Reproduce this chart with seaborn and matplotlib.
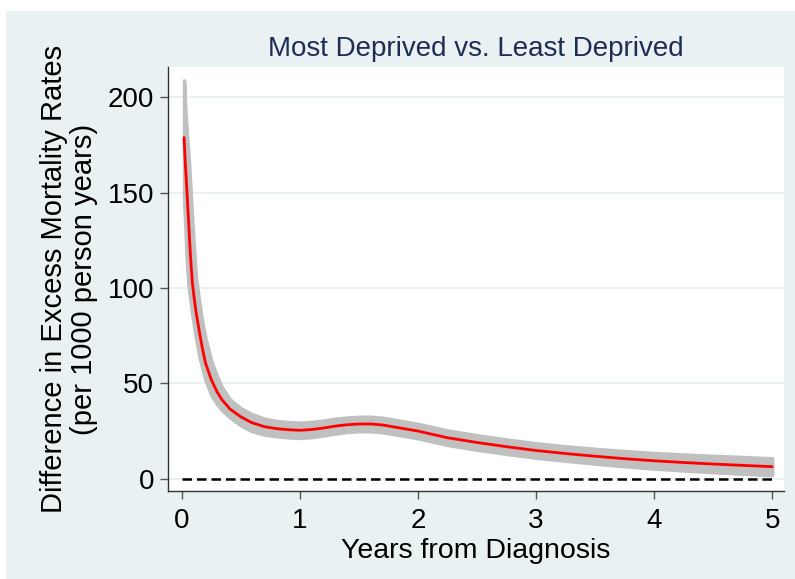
import matplotlib
matplotlib.use("Agg")
import matplotlib.pyplot as plt
import seaborn as sns
import pandas as pd
from matplotlib.patches import Rectangle

# years since diagnosis and the estimated difference (per 1000 person years)
years = [0.02, 0.03, 0.045, 0.06, 0.075, 0.09, 0.105, 0.12, 0.15, 0.17, 0.2, 0.25, 0.3, 0.34,
         0.41, 0.5, 0.59, 0.7, 0.8, 0.9, 1.0, 1.1, 1.2, 1.3, 1.4, 1.5, 1.6, 1.7,
         1.85, 2.0, 2.25, 2.5, 2.75, 3.0, 3.25, 3.5, 3.75, 4.0, 4.25, 4.5, 4.75, 5.0]
diff = [179, 166, 150, 133, 116, 103, 95, 88, 77, 70, 61, 52, 45.5, 41.5,
        36.5, 32.5, 29.5, 27.3, 26.3, 25.7, 25.4, 25.8, 26.6, 27.6, 28.3, 28.7, 28.7, 28.2,
        26.6, 25.0, 21.5, 19.0, 16.8, 14.8, 13.2, 11.8, 10.5, 9.4, 8.5, 7.7, 7.0, 6.3]
ci_low = [147, 133, 112, 100, 93, 86, 80, 74, 64, 59, 52, 44, 39, 36,
          32, 28, 25, 23.1, 22.3, 21.7, 21.4, 21.8, 22.7, 23.7, 24.5, 24.9, 24.9, 24.4,
          22.8, 21.2, 17.7, 15.2, 13.0, 11.0, 9.4, 7.9, 6.5, 5.3, 4.3, 3.4, 2.6, 1.9]
ci_high = [209, 195, 180, 168, 152, 135, 120, 106, 92, 84, 74, 62, 53.5, 48,
           41.5, 37, 34, 31.5, 30.3, 29.7, 29.4, 29.8, 30.5, 31.5, 32.1, 32.5, 32.5, 32.0,
           30.4, 28.8, 25.3, 22.8, 20.6, 18.6, 17.0, 15.7, 14.5, 13.5, 12.7, 12.0, 11.4, 10.7]

title = "Most Deprived vs. Least Deprived"
xlabel = "Years from Diagnosis"
ylabel = "Difference in Excess Mortality Rates\n(per 1000 person years)"
xticks = [0, 1, 2, 3, 4, 5]
yticks = [0, 50, 100, 150, 200]

df = pd.DataFrame({"years": years, "diff": diff, "lo": ci_low, "hi": ci_high})

sns.set_theme(style="white")
plt.rcParams["font.family"] = ["Liberation Sans", "DejaVu Sans"]

bg = "#EAF1F3"
fig = plt.figure(figsize=(7.95, 5.79), dpi=100, facecolor="white")
fig.patches.append(Rectangle((6 / 795, 0), 1, 1 - 11 / 579, transform=fig.transFigure,
                             facecolor=bg, edgecolor="none", zorder=-10))
ax = fig.add_axes([168 / 795, 1 - 491 / 579, (784 - 168) / 795, (491 - 67) / 579])
ax.set_facecolor("white")

# confidence band, estimate and the zero reference line
ax.fill_between(df["years"], df["lo"], df["hi"], color="#C0C0C0", linewidth=2.5,
                edgecolor="#C0C0C0", zorder=2)
sns.lineplot(data=df, x="years", y="diff", color="#FF0000", linewidth=2, ax=ax, zorder=3)
ax.plot([xticks[0], xticks[-1]], [0, 0], color="black", linestyle=(0, (3.8, 2.0)),
        linewidth=1.8, zorder=4)

ax.set_xlim(-0.116, 5.10)
ax.set_ylim(-6.45, 216)
ax.set_xticks(xticks)
ax.set_yticks(yticks)
ax.yaxis.grid(True, color=bg, linewidth=1.5)
ax.set_axisbelow(True)
for side in ["top", "right"]:
    ax.spines[side].set_visible(False)
for side in ["left", "bottom"]:
    ax.spines[side].set_color("#333333")
    ax.spines[side].set_linewidth(1)
ax.tick_params(axis="both", which="major", direction="out", length=6, width=1,
               color="#555555", labelsize=20, labelcolor="black", pad=4)
ax.tick_params(axis="x", bottom=True, pad=6)
ax.tick_params(axis="y", left=True)

ax.set_xlabel(xlabel, fontsize=20.5, color="black", labelpad=3)
ax.set_ylabel(ylabel, fontsize=21, color="black", linespacing=1.1)
ax.yaxis.set_label_coords((98 - 168) / 616, 0.5)
ax.set_title(title, fontsize=20, color="#1F2D55", pad=8)

fig.savefig("out.png", dpi=100, facecolor="white")
